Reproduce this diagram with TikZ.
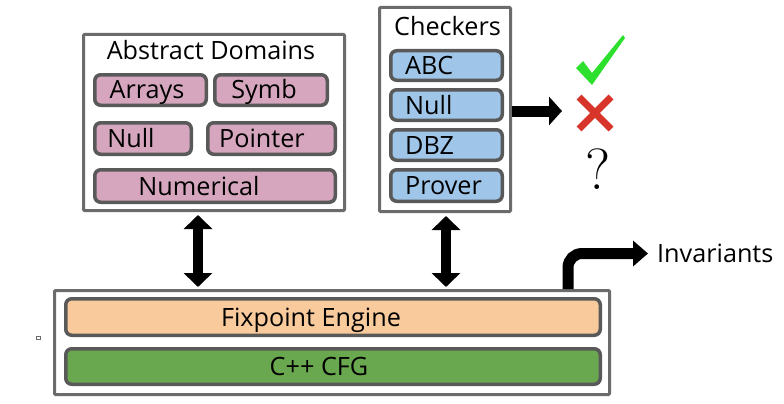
\documentclass[tikz,border=0pt]{standalone}
\usepackage{fontspec}
\newfontfamily\osans{Open Sans}
\usetikzlibrary{positioning}
\usetikzlibrary{calc}
\usetikzlibrary{arrows.meta}

\definecolor{boxgray}{HTML}{6B6B6B}
\definecolor{edgegray}{HTML}{595959}
\definecolor{dompink}{HTML}{D5A6BD}
\definecolor{chkblue}{HTML}{9FC5E8}
\definecolor{fixorange}{HTML}{F9CB9C}
\definecolor{cfggreen}{HTML}{6AA84F}
\definecolor{okgreen}{HTML}{2EE02E}
\definecolor{badred}{HTML}{D8352A}

\tikzset{
  frame/.style={draw=boxgray, line width=3pt, fill=white, inner sep=0pt, rounded corners=1pt},
  part/.style={draw=edgegray, line width=3.5pt, rounded corners=6pt, inner sep=0pt},
  lbl/.style={font=\osans\fontsize{25.2}{29}\selectfont, inner sep=0pt,
    text height=22.7pt, text depth=4.7pt},
  fat/.style={line width=11pt, -{Triangle[length=13pt,width=28pt]}},
  dbl/.style={line width=10pt,
    {Triangle[length=14pt,width=28pt]}-{Triangle[length=14pt,width=28pt]}},
}

\begin{document}
\begin{tikzpicture}[x=1pt, y=-1pt]
  \useasboundingbox (0,0) rectangle (784,404);

  % abstract domains
  \node[frame, minimum width=261, minimum height=176] (domains) at (214,122.5) {};
  \node[lbl] (domtitle) at (211,50.5) {Abstract Domains};
  \node[part, fill=dompink, minimum width=111.5, minimum height=30.5,
    label={[lbl, xshift=-3.5]center:Arrays}] (arrays) at (150.5,90) {};
  \node[part, fill=dompink, minimum width=112.5, minimum height=30.5,
    label={[lbl, xshift=-7]center:Symb}] (symb) at (271,90) {};
  \node[part, fill=dompink, minimum width=96.5, minimum height=31.5,
    label={[lbl, xshift=-12]center:Null}] (null) at (143,138.5) {};
  \node[part, fill=dompink, minimum width=127.5, minimum height=31.5,
    label={[lbl, xshift=-9.5]center:Pointer}] (pointer) at (271.5,138.5) {};
  \node[part, fill=dompink, minimum width=240.5, minimum height=32.5,
    label={[lbl, xshift=-16]center:Numerical}] (numerical) at (215,186) {};

  % checkers
  \node[frame, minimum width=131, minimum height=204] (checkers) at (445,109.5) {};
  \node[lbl] (chktitle) at (447.5,26.5) {Checkers};
  \node[part, fill=chkblue, minimum width=111.5, minimum height=29.5,
    label={[lbl, anchor=west, xshift=16]west:ABC}] (abc) at (446.5,65.5) {};
  \node[part, fill=chkblue, minimum width=111.5, minimum height=30.5,
    label={[lbl, anchor=west, xshift=16]west:Null}] (cnull) at (446.5,105) {};
  \node[part, fill=chkblue, minimum width=111.5, minimum height=30.5,
    label={[lbl, anchor=west, xshift=16]west:DBZ}] (dbz) at (446.5,145) {};
  \node[part, fill=chkblue, minimum width=111.5, minimum height=31.5,
    label={[lbl, anchor=west, xshift=16]west:Prover}] (prover) at (446.5,185.5) {};

  % engine
  \node[frame, minimum width=555, minimum height=104] (base) at (332,342.5) {};
  \node[part, fill=fixorange, minimum width=534.5, minimum height=36.5,
    label={[lbl, xshift=-22]center:Fixpoint Engine}] (fixpoint) at (333,317) {};
  \node[part, fill=cfggreen, minimum width=534.5, minimum height=35.5,
    label={[lbl, xshift=-14]center:C++ CFG}] (cfg) at (333,366.5) {};

  \draw[dbl, shorten <=3pt, shorten >=2pt] ([xshift=-16]domains.south)
    -- ([xshift=-16]domains.south |- base.north);
  \draw[dbl, shorten <=3pt, shorten >=2pt] ([xshift=1]checkers.south)
    -- ([xshift=1]checkers.south |- base.north);

  % verdicts
  \coordinate (verdict) at (562,111);
  \draw[fat] (checkers.east |- verdict) -- (verdict);
  \fill[okgreen] (576,68) -- (583,61) -- (592,73) -- (623,35) -- (625,38) -- (592,85) -- cycle;
  \draw[badred, line width=7pt] (579,97) -- (611,129) (611,97) -- (579,129);
  \node (unknown) at (598.5,169) {\fontsize{58}{62}\selectfont ?};

  \node[lbl, anchor=west] (inv) at (657,253.5) {Invariants};
  \draw[fat, -{Triangle[length=15pt,width=25pt]}, rounded corners=14, shorten >=9pt]
    ([xshift=236]base.north) |- (inv.west);

  \draw[boxgray, line width=0.8pt] (36.5,336.5) rectangle (40,339.5);
\end{tikzpicture}
\end{document}
